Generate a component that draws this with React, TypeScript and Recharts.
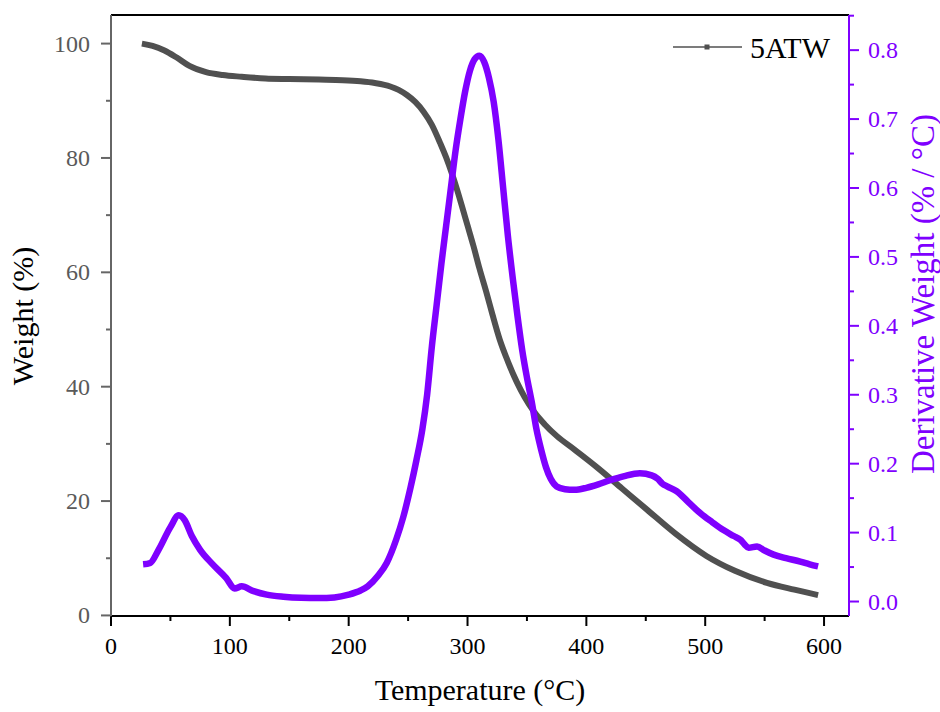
import React from 'react';
import {
  ComposedChart,
  Line,
  XAxis,
  YAxis,
  ReferenceLine,
} from 'recharts';

// temperature (°C) / weight (%)
const tgaTemp = [26, 35, 45, 55, 66, 80, 94, 110, 130, 150, 175, 195, 210, 222, 235, 242, 249, 256, 263, 270, 277, 282, 287, 291, 295, 300, 305, 310, 316, 321, 327, 334, 341.5, 348, 356, 365, 375, 390, 409, 430, 451, 475, 501, 525, 552, 575, 595];
const tgaWeight = [100, 99.6, 98.8, 97.6, 96.1, 95.0, 94.5, 94.2, 93.9, 93.8, 93.7, 93.6, 93.4, 93.1, 92.5, 91.9, 91.0, 89.8, 88.1, 85.8, 82.6, 80.1, 77.2, 74.6, 71.8, 68.2, 64.6, 60.7, 56.4, 52.6, 48.3, 44.4, 40.8, 38.2, 35.6, 33.4, 31.4, 29.0, 25.9, 22.2, 18.5, 14.3, 10.4, 7.8, 5.7, 4.5, 3.55];

// temperature (°C) / derivative weight (%/°C) for the DTG curve
const dtgTemp = [27, 33, 40, 50, 57, 62, 68, 75, 85, 97, 104, 110, 120, 131, 145, 160, 175, 188, 200, 210, 216, 225, 232, 240, 246, 252, 257, 262, 266, 270, 274, 278, 282, 286, 290, 294, 298, 302, 306, 310, 314, 318, 322, 326, 330, 334, 338, 342, 346, 350, 354, 358, 362, 366, 370, 375, 382, 390, 400, 410, 420, 432, 445, 455, 460, 464, 468, 476, 486, 496, 506, 515, 524, 530, 533, 536.5, 543.6, 550, 557.6, 568, 580, 588, 595];
const dtgValue = [0.054, 0.056, 0.075, 0.108, 0.125, 0.118, 0.095, 0.075, 0.055, 0.034, 0.019, 0.022, 0.015, 0.010, 0.007, 0.0054, 0.005, 0.006, 0.01, 0.016, 0.022, 0.038, 0.056, 0.09, 0.123, 0.165, 0.205, 0.25, 0.30, 0.37, 0.43, 0.49, 0.545, 0.60, 0.655, 0.70, 0.74, 0.77, 0.787, 0.792, 0.783, 0.76, 0.725, 0.67, 0.60, 0.53, 0.47, 0.415, 0.365, 0.325, 0.29, 0.25, 0.22, 0.195, 0.178, 0.167, 0.163, 0.162, 0.165, 0.17, 0.176, 0.182, 0.186, 0.183, 0.178, 0.171, 0.167, 0.160, 0.144, 0.128, 0.115, 0.104, 0.095, 0.089, 0.083, 0.078, 0.080, 0.074, 0.068, 0.063, 0.058, 0.054, 0.051];

const xTicks = [0, 50, 100, 150, 200, 250, 300, 350, 400, 450, 500, 550, 600];
const leftTicks = [0, 10, 20, 30, 40, 50, 60, 70, 80, 90, 100];
const rightTicks = [0, 0.05, 0.1, 0.15, 0.2, 0.25, 0.3, 0.35, 0.4, 0.45, 0.5, 0.55, 0.6, 0.65, 0.7, 0.75, 0.8, 0.85];

const SERIF = '"Liberation Serif", "Times New Roman", serif';
const GRAY = '#505050';
const PURPLE = '#7f00ff';

const tgaData = tgaTemp.map((t, i) => ({ t, w: tgaWeight[i] }));
const dtgData = dtgTemp.map((t, i) => ({ t, d: dtgValue[i] }));

// eslint-disable-next-line @typescript-eslint/no-explicit-any
const XTick = ({ x, y, payload }: any) => {
  const v = payload.value;
  const major = v % 100 === 0;
  return (
    <g>
      <line x1={x} x2={x} y1={y} y2={y + (major ? 10 : 5)} stroke="#000" strokeWidth={2} />
      {major && (
        <text x={x} y={y + 38} textAnchor="middle" fill="#000" style={{ fontFamily: SERIF, fontSize: 24 }}>
          {v}
        </text>
      )}
    </g>
  );
};

// eslint-disable-next-line @typescript-eslint/no-explicit-any
const LeftTick = ({ x, y, payload }: any) => {
  const v = payload.value;
  const major = v % 20 === 0;
  return (
    <g>
      <line x1={x} x2={x - (major ? 10 : 5)} y1={y} y2={y} stroke="#666" strokeWidth={2} />
      {major && (
        <text x={x - 21} y={y + 8} textAnchor="end" fill="#5a5a5a" style={{ fontFamily: SERIF, fontSize: 24 }}>
          {v}
        </text>
      )}
    </g>
  );
};

// eslint-disable-next-line @typescript-eslint/no-explicit-any
const RightTick = ({ x, y, payload }: any) => {
  const v = payload.value;
  const idx = Math.round(v * 20);
  const major = idx % 2 === 0;
  return (
    <g>
      <line x1={x} x2={x + (major ? 10 : 5)} y1={y} y2={y} stroke={PURPLE} strokeWidth={2} />
      {major && (
        <text x={x + 19} y={y + 8} textAnchor="start" fill={PURPLE} style={{ fontFamily: SERIF, fontSize: 24 }}>
          {(idx / 20).toFixed(1)}
        </text>
      )}
    </g>
  );
};

export default function App() {
  return (
    <div style={{ position: 'absolute', left: 0, top: 0, width: 940, height: 712, background: '#fff' }}>
      <ComposedChart width={940} height={712} margin={{ top: 15, right: 0, bottom: 0, left: 0 }}>
        <XAxis
          dataKey="t"
          type="number"
          domain={[0, 621]}
          ticks={xTicks}
          interval={0}
          allowDataOverflow
          height={96}
          tickSize={0}
          tickMargin={0}
          tickLine={false}
          tick={<XTick />}
          axisLine={{ stroke: '#000', strokeWidth: 2 }}
        />
        <YAxis
          yAxisId="left"
          type="number"
          domain={[-0.1, 105]}
          ticks={leftTicks}
          interval={0}
          allowDataOverflow
          width={111}
          tickSize={0}
          tickMargin={0}
          tickLine={false}
          tick={<LeftTick />}
          axisLine={{ stroke: '#666', strokeWidth: 2 }}
        />
        <YAxis
          yAxisId="right"
          orientation="right"
          type="number"
          domain={[-0.021, 0.851]}
          ticks={rightTicks}
          interval={0}
          allowDataOverflow
          width={91}
          tickSize={0}
          tickMargin={0}
          tickLine={false}
          tick={<RightTick />}
          axisLine={{ stroke: PURPLE, strokeWidth: 2 }}
        />
        <ReferenceLine yAxisId="left" y={105} stroke="#000" strokeWidth={2} />
        <Line
          yAxisId="left"
          data={tgaData}
          dataKey="w"
          type="monotone"
          stroke={GRAY}
          strokeWidth={6}
          dot={false}
          activeDot={false}
          isAnimationActive={false}
        />
        <Line
          yAxisId="right"
          data={dtgData}
          dataKey="d"
          type="monotone"
          stroke={PURPLE}
          strokeWidth={6.5}
          dot={false}
          activeDot={false}
          isAnimationActive={false}
        />
      </ComposedChart>
      <div
        style={{
          position: 'absolute',
          left: 0,
          top: 670,
          width: 960,
          textAlign: 'center',
          fontFamily: SERIF,
          fontSize: 30,
          lineHeight: '40px',
        }}
      >
        Temperature (°C)
      </div>
      <svg style={{ position: 'absolute', left: 0, top: 0 }} width={940} height={712} pointerEvents="none">
        <line x1={673} x2={742} y1={47} y2={47} stroke={GRAY} strokeWidth={1.5} />
        <rect x={704.5} y={44.5} width={5} height={5} fill={GRAY} />
        <text x={750} y={58} fontSize={30} fill="#000" fontFamily={SERIF}>
          5ATW
        </text>
        <text
          x={33}
          y={316}
          transform="rotate(-90 33 316)"
          textAnchor="middle"
          fontSize={30}
          fill="#000"
          fontFamily={SERIF}
        >
          Weight (%)
        </text>
        <text
          x={934}
          y={294}
          transform="rotate(-90 934 294)"
          textAnchor="middle"
          fontSize={33}
          fill={PURPLE}
          fontFamily={SERIF}
        >
          Derivative Weight (% / °C)
        </text>
      </svg>
    </div>
  );
}
